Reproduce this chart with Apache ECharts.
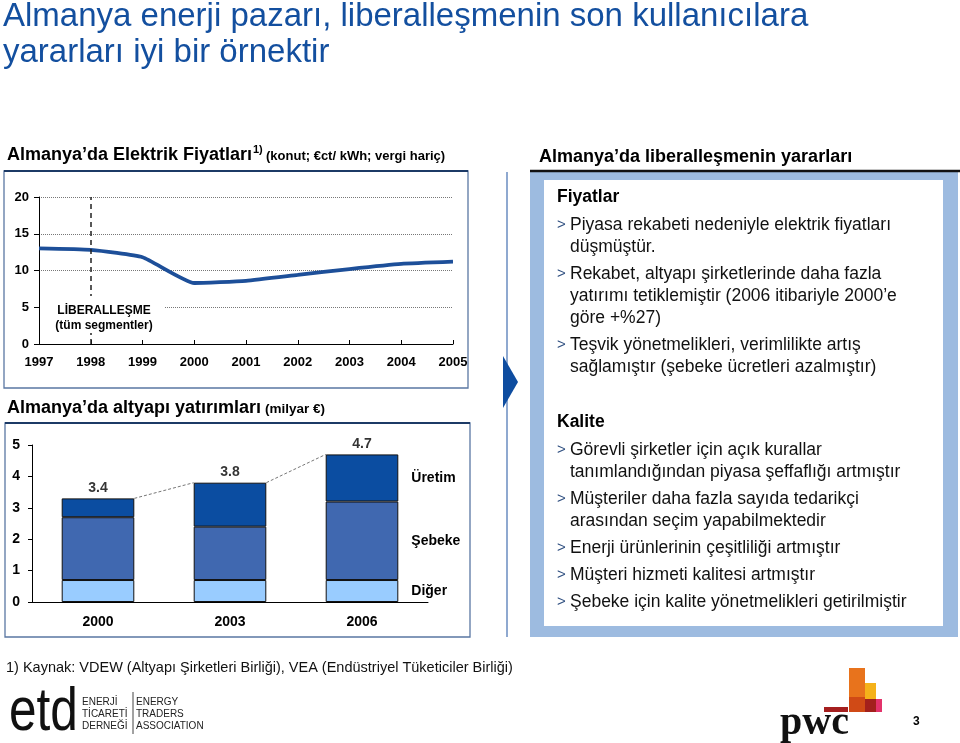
<!DOCTYPE html>
<html><head><meta charset="utf-8">
<script src="https://cdn.jsdelivr.net/npm/echarts@6/dist/echarts.min.js"></script>
<style>html,body{margin:0;padding:0;background:#fff}#c{width:960px;height:743px}</style>
</head><body><div id="c"></div>
<script>
// ---- Data ----
const priceYears = ['1997','1998','1999','2000','2001','2002','2003','2004','2005'];
const priceValues = [13.0, 12.8, 11.8, 8.3, 8.6, 9.4, 10.2, 10.9, 11.2];
const liberalizationYear = '1998';

const invYears = ['2000','2003','2006'];
const digerValues = [0.7, 0.7, 0.7];
const sebekeValues = [2.0, 1.7, 2.5];
const uretimValues = [0.6, 1.4, 1.5];
const totalLabels = ['3.4','3.8','4.7'];

const fiyatlarItems = [
  ['Piyasa rekabeti nedeniyle elektrik fiyatları','düşmüştür.'],
  ['Rekabet, altyapı şirketlerinde daha fazla','yatırımı tetiklemiştir (2006 itibariyle 2000’e','göre +%27)'],
  ['Teşvik yönetmelikleri, verimlilikte artış','sağlamıştır (şebeke ücretleri azalmıştır)']
];
const kaliteItems = [
  ['Görevli şirketler için açık kurallar','tanımlandığından piyasa şeffaflığı artmıştır'],
  ['Müşteriler daha fazla sayıda tedarikçi','arasından seçim yapabilmektedir'],
  ['Enerji ürünlerinin çeşitliliği artmıştır'],
  ['Müşteri hizmeti kalitesi artmıştır'],
  ['Şebeke için kalite yönetmelikleri getirilmiştir']
];

// ---- Helpers ----
const FONT = "'Liberation Sans', Arial, Helvetica, sans-serif";
const SERIF = "'Liberation Serif', 'DejaVu Serif', serif";
function T(x, y, text, size, o) {
  o = o || {};
  return {
    type: 'text', x: x, y: y, z: o.z || 10, scaleX: o.scaleX || 1, silent: true,
    style: {
      text: text,
      font: (o.bold ? 'bold ' : '') + size + 'px ' + (o.family || FONT),
      fill: o.fill || '#000',
      textAlign: o.align || 'left',
      textVerticalAlign: o.va || 'middle'
    }
  };
}
function R(x, y, w, h, style, z) {
  return { type: 'rect', z: z || 1, silent: true, shape: { x: x, y: y, width: w, height: h }, style: style };
}
function L(x1, y1, x2, y2, stroke, lw, z) {
  return { type: 'line', z: z || 2, silent: true, shape: { x1: x1, y1: y1, x2: x2, y2: y2 }, style: { stroke: stroke, lineWidth: lw } };
}

const graphics = [];
// Title
graphics.push(T(3, 17, 'Almanya enerji pazarı, liberalleşmenin son kullanıcılara', 33, { fill: '#134f9f' }));
graphics.push(T(3, 53, 'yararları iyi bir örnektir', 33, { fill: '#134f9f' }));

// Left top header & box
graphics.push(T(7, 155, 'Almanya’da Elektrik Fiyatları', 18, { bold: true }));
graphics.push(T(253, 150, '1)', 11, { bold: true }));
graphics.push(T(266, 156, '(konut; €ct/ kWh; vergi hariç)', 13, { bold: true }));
graphics.push(R(4, 171, 464, 217, { fill: 'none', stroke: '#5a77a3', lineWidth: 1.3 }));
graphics.push(L(4, 171, 468, 171, '#1c3a66', 2.2));

// Liberalization label (covers grid line)
graphics.push(R(41, 296, 123, 37, { fill: '#fff' }, 50));
graphics.push(T(104, 311, 'LİBERALLEŞME', 12, { bold: true, align: 'center', z: 51 }));
graphics.push(T(104, 326, '(tüm segmentler)', 12, { bold: true, align: 'center', z: 51 }));

// Left bottom header & box
graphics.push(T(7, 408, 'Almanya’da altyapı yatırımları', 18, { bold: true }));
graphics.push(T(265, 409, '(milyar €)', 13.5, { bold: true }));
graphics.push(R(5, 423, 465, 214, { fill: 'none', stroke: '#5a77a3', lineWidth: 1.3 }));
graphics.push(L(5, 423, 470, 423, '#1c3a66', 2.2));

// Separator & arrow
graphics.push(L(507, 172, 507, 637, '#6a8cc0', 1.5));
graphics.push({ type: 'polygon', z: 5, silent: true, shape: { points: [[503, 356], [518, 382], [503, 408]] }, style: { fill: '#0e4da0' } });

// Right panel
graphics.push(T(539, 157, 'Almanya’da liberalleşmenin yararları', 18, { bold: true }));
graphics.push(R(530, 172, 428, 465, { fill: '#9dbbe0' }, 1));
graphics.push(R(544, 180, 399, 446, { fill: '#ffffff' }, 2));
graphics.push(L(530, 171, 960, 171, '#111', 2.5, 3));

function section(title, items, y0) {
  graphics.push(T(557, y0, title, 17.5, { bold: true }));
  let y = y0 + 28;
  items.forEach(function (lines) {
    graphics.push(T(557, y, '>', 15, { fill: '#2f4f80' }));
    lines.forEach(function (ln, k) {
      graphics.push(T(570, y, ln, 17.5, { fill: '#111' }));
      if (k < lines.length - 1) y += 22;
    });
    y += 27;
  });
}
section('Fiyatlar', fiyatlarItems, 197);
section('Kalite', kaliteItems, 422);

// Footer
graphics.push(T(6, 668, '1) Kaynak: VDEW (Altyapı Şirketleri Birliği), VEA (Endüstriyel Tüketiciler Birliği)', 14.5, { fill: '#111' }));

// etd logo
graphics.push(T(9, 713, 'etd', 62, { scaleX: 0.8, fill: '#111' }));
graphics.push(T(82, 702, 'ENERJİ', 10, { fill: '#222' }));
graphics.push(T(82, 714, 'TİCARETİ', 10, { fill: '#222' }));
graphics.push(T(82, 726, 'DERNEĞİ', 10, { fill: '#222' }));
graphics.push(L(133, 692, 133, 734, '#444', 1));
graphics.push(T(136, 702, 'ENERGY', 10, { fill: '#222' }));
graphics.push(T(136, 714, 'TRADERS', 10, { fill: '#222' }));
graphics.push(T(136, 726, 'ASSOCIATION', 10, { fill: '#222' }));

// pwc logo
graphics.push(R(849, 668, 16, 30, { fill: '#e8731c' }, 3));
graphics.push(R(865, 683, 11, 16, { fill: '#f5b21a' }, 3));
graphics.push(R(849, 697, 16, 15, { fill: '#d04a16' }, 3));
graphics.push(R(865, 699, 11, 13, { fill: '#a3201c' }, 3));
graphics.push(R(876, 699, 6, 13, { fill: '#e3326b' }, 3));
graphics.push(R(824, 707, 24, 5, { fill: '#a51f1f' }, 3));
graphics.push(T(780, 724, 'pwc', 40, { bold: true, family: SERIF, fill: '#111' }));
graphics.push(T(913, 722, '3', 12, { bold: true }));

// ---- Chart-derived data ----
const totals = invYears.map(function (_, i) { return +(digerValues[i] + sebekeValues[i] + uretimValues[i]).toFixed(2); });
const barFrac = 0.55;
const hw = barFrac / 2;
const connectors = [];
for (let i = 0; i < totals.length - 1; i++) {
  connectors.push({ coords: [[i + hw, totals[i]], [i + 1 - hw, totals[i + 1]]] });
}
const last = invYears.length - 1;
function withEndLabel(arr) {
  return arr.map(function (v, i) {
    return i === last ? { value: v, label: { show: true, position: 'right', distance: 13, formatter: '{a}', color: '#000', fontFamily: FONT, fontWeight: 'bold', fontSize: 14 } } : v;
  });
}
const axisLbl = { color: '#000', fontFamily: FONT, fontWeight: 'bold' };
const black = { color: '#000', width: 1 };

const option = {
  animation: false,
  backgroundColor: '#fff',
  textStyle: { fontFamily: FONT },
  grid: [
    { left: 39, top: 197, width: 414, height: 147, outerBoundsMode: 'none', containLabel: false },
    { left: 32, top: 445, width: 396, height: 157, outerBoundsMode: 'none', containLabel: false }
  ],
  xAxis: [
    { type: 'category', gridIndex: 0, data: priceYears, boundaryGap: false,
      axisLine: { onZero: false, lineStyle: black }, axisTick: { show: true, inside: true, length: 4, lineStyle: black },
      axisLabel: Object.assign({ fontSize: 13, margin: 12, interval: 0 }, axisLbl), splitLine: { show: false } },
    { type: 'category', gridIndex: 1, data: invYears, boundaryGap: true,
      axisLine: { onZero: false, lineStyle: black }, axisTick: { show: false },
      axisLabel: Object.assign({ fontSize: 14, margin: 13, interval: 0 }, axisLbl), splitLine: { show: false } },
    { type: 'value', gridIndex: 1, min: -0.5, max: 2.5, show: false, position: 'top',
      axisLine: { show: false, onZero: false }, splitLine: { show: false } }
  ],
  yAxis: [
    { type: 'value', gridIndex: 0, min: 0, max: 20, interval: 5,
      axisLine: { show: true, onZero: false, lineStyle: black }, axisTick: { show: true, length: 5, lineStyle: black },
      axisLabel: Object.assign({ fontSize: 13, margin: 10 }, axisLbl),
      splitLine: { show: true, lineStyle: { color: '#777', type: 'dotted', width: 1 } } },
    { type: 'value', gridIndex: 1, min: 0, max: 5, interval: 1, position: 'left',
      axisLine: { show: true, onZero: false, lineStyle: black }, axisTick: { show: true, length: 4, lineStyle: black },
      axisLabel: Object.assign({ fontSize: 14, margin: 12 }, axisLbl),
      splitLine: { show: false } }
  ],
  graphic: { elements: graphics },
  series: [
    { name: 'Fiyat', type: 'line', xAxisIndex: 0, yAxisIndex: 0, data: priceValues,
      smooth: 0.15, symbol: 'none', lineStyle: { color: '#1d4f99', width: 3.8 }, z: 3,
      markLine: { silent: true, symbol: ['none', 'none'], label: { show: false },
        lineStyle: { color: '#222', type: [5, 4], width: 1.5 },
        data: [{ xAxis: liberalizationYear }] } },
    { name: 'Diğer', type: 'bar', stack: 'inv', xAxisIndex: 1, yAxisIndex: 1, barWidth: (barFrac * 100) + '%',
      data: withEndLabel(digerValues), itemStyle: { color: '#99ccff', borderColor: '#111', borderWidth: 1 } },
    { name: 'Şebeke', type: 'bar', stack: 'inv', xAxisIndex: 1, yAxisIndex: 1, barWidth: (barFrac * 100) + '%',
      data: withEndLabel(sebekeValues), itemStyle: { color: '#4068b0', borderColor: '#111', borderWidth: 1 } },
    { name: 'Üretim', type: 'bar', stack: 'inv', xAxisIndex: 1, yAxisIndex: 1, barWidth: (barFrac * 100) + '%',
      data: withEndLabel(uretimValues), itemStyle: { color: '#0b4da1', borderColor: '#111', borderWidth: 1 } },
    { name: 'Toplam', type: 'scatter', xAxisIndex: 1, yAxisIndex: 1, data: totals, symbolSize: 1,
      itemStyle: { color: 'transparent' }, z: 5,
      label: { show: true, position: 'top', distance: 3, color: '#000', fontFamily: FONT, fontWeight: 'bold', fontSize: 14,
        formatter: function (p) { return totalLabels[p.dataIndex]; } } },
    { name: 'Bağlantı', type: 'lines', coordinateSystem: 'cartesian2d', xAxisIndex: 2, yAxisIndex: 1,
      data: connectors, symbol: ['none', 'none'], silent: true, z: 4,
      lineStyle: { color: '#777', type: [3, 2], width: 1, opacity: 1, curveness: 0 } }
  ]
};

const chart = echarts.init(document.getElementById('c'), null, { renderer: 'canvas' });
chart.setOption(option);
</script>
</body></html>
